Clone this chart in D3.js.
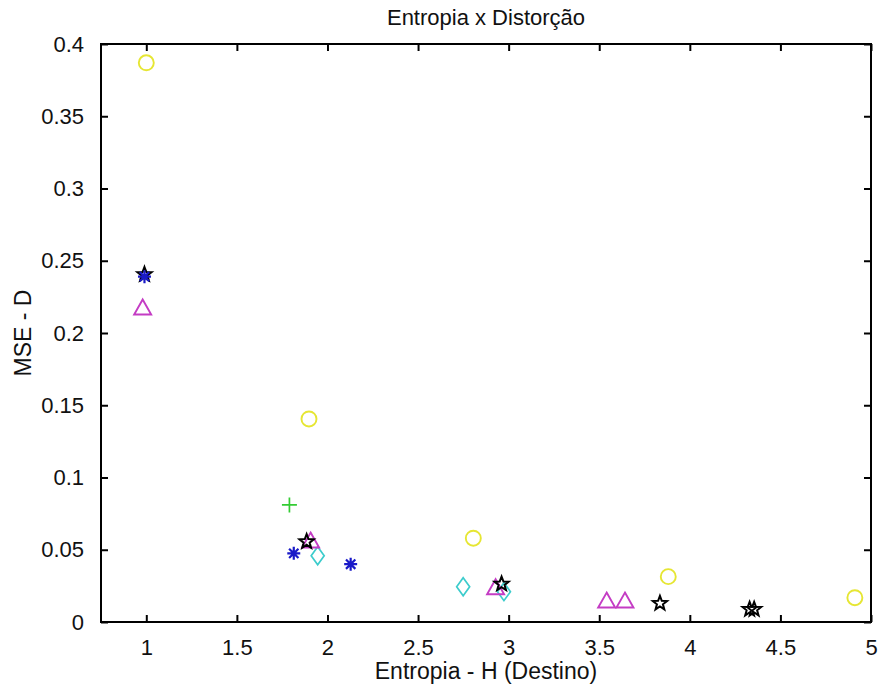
<!DOCTYPE html>
<html>
<head>
<meta charset="utf-8">
<script src="https://cdn.jsdelivr.net/npm/d3@7"></script>
<style>
  html, body { margin: 0; padding: 0; background: #fff; }
  svg { display: block; }
  text { font-family: "Liberation Sans", Arial, sans-serif; fill: #111; }
</style>
</head>
<body>
<script>
// Entropy (x) versus distortion (y) for several quantiser families.
const xTicks = [1, 1.5, 2, 2.5, 3, 3.5, 4, 4.5, 5];
const xTickLabels = ["1", "1.5", "2", "2.5", "3", "3.5", "4", "4.5", "5"];
const yTicks = [0, 0.05, 0.1, 0.15, 0.2, 0.25, 0.3, 0.35, 0.4];
const yTickLabels = ["0", "0.05", "0.1", "0.15", "0.2", "0.25", "0.3", "0.35", "0.4"];

// yellow circles
const circleH = [1.0, 1.898, 2.805, 3.881, 4.911];
const circleD = [0.387, 0.1405, 0.058, 0.0314, 0.0168];
// black pentagrams
const starH = [0.99, 1.885, 2.961, 3.835, 4.33, 4.355];
const starD = [0.2405, 0.0556, 0.0263, 0.0129, 0.0088, 0.0088];
// magenta triangles
const triH = [0.98, 1.907, 2.928, 3.541, 3.642];
const triD = [0.218, 0.0567, 0.0244, 0.0152, 0.0152];
// cyan diamonds
const diaH = [1.946, 2.749, 2.974];
const diaD = [0.0459, 0.0244, 0.021];
// blue asterisks
const astH = [0.99, 1.814, 2.128];
const astD = [0.239, 0.0475, 0.040];
// green plus
const plusH = [1.79];
const plusD = [0.081];

const W = 879, H = 686;
const m = { left: 101, right: 8, top: 44, bottom: 64 };

const svg = d3.select("body").append("svg").attr("width", W).attr("height", H);

const x = d3.scaleLinear().domain([0.75, 5]).range([m.left, W - m.right]);
const y = d3.scaleLinear().domain([0, 0.4]).range([H - m.bottom, m.top]);

const fs = 22, tickLen = 7;

// axes (bottom/left carry labels, top/right only ticks)
const gx = svg.append("g").attr("transform", `translate(0,${y(0)})`)
  .call(d3.axisBottom(x).tickValues(xTicks).tickFormat((d, i) => xTickLabels[i])
    .tickSizeInner(-tickLen).tickSizeOuter(0).tickPadding(17));
const gxTop = svg.append("g").attr("transform", `translate(0,${y(0.4)})`)
  .call(d3.axisTop(x).tickValues(xTicks).tickFormat("").tickSizeInner(-tickLen).tickSizeOuter(0));
const gy = svg.append("g").attr("transform", `translate(${x(0.75)},0)`)
  .call(d3.axisLeft(y).tickValues(yTicks).tickFormat((d, i) => yTickLabels[i])
    .tickSizeInner(-tickLen).tickSizeOuter(0).tickPadding(17));
const gyRight = svg.append("g").attr("transform", `translate(${x(5)},0)`)
  .call(d3.axisRight(y).tickValues(yTicks).tickFormat("").tickSizeInner(-tickLen).tickSizeOuter(0));

[gx, gxTop, gy, gyRight].forEach(g => {
  g.select(".domain").remove();
  g.selectAll(".tick line").attr("stroke", "#000").attr("stroke-width", 2);
  g.selectAll(".tick text").attr("font-size", fs).attr("fill", "#111");
});

svg.append("rect")
  .attr("x", x(0.75)).attr("y", y(0.4))
  .attr("width", x(5) - x(0.75)).attr("height", y(0) - y(0.4))
  .attr("fill", "none").attr("stroke", "#000").attr("stroke-width", 2);

// marker shapes (centred at 0,0)
function circlePath(r) { return d3.arc()({ innerRadius: 0, outerRadius: r, startAngle: 0, endAngle: 2 * Math.PI }); }
function trianglePath(s) {
  const h = s * 0.88;
  return `M0,${-h / 2}L${s / 2},${h / 2}L${-s / 2},${h / 2}Z`;
}
function diamondPath(w, h) { return `M0,${-h / 2}L${w / 2},0L0,${h / 2}L${-w / 2},0Z`; }
function plusPath(s) { return `M${-s / 2},0H${s / 2}M0,${-s / 2}V${s / 2}`; }
function asteriskPath(s) {
  const a = s / 2, b = a * 0.72;
  return `M${-a},0H${a}M0,${-a}V${a}M${-b},${-b}L${b},${b}M${-b},${b}L${b},${-b}`;
}
function starPath(R) {
  const r = R * 0.42, pts = [];
  for (let i = 0; i < 10; i++) {
    const ang = -Math.PI / 2 + i * Math.PI / 5;
    const rad = i % 2 ? r : R;
    pts.push([rad * Math.cos(ang), rad * Math.sin(ang)]);
  }
  return "M" + pts.map(p => p.join(",")).join("L") + "Z";
}

function plotSeries(hs, ds, path, color, width) {
  svg.append("g").selectAll("path")
    .data(hs.map((h, i) => [h, ds[i]]))
    .join("path")
    .attr("transform", d => `translate(${x(d[0])},${y(d[1])})`)
    .attr("d", path)
    .attr("fill", "none")
    .attr("stroke", color)
    .attr("stroke-width", width)
    .attr("stroke-linejoin", "miter");
}

plotSeries(circleH, circleD, circlePath(7.5), "#e6e633", 1.9);
plotSeries(diaH, diaD, diamondPath(13, 18), "#3ccccc", 1.7);
plotSeries(triH, triD, trianglePath(17), "#c43cc4", 1.9);
plotSeries(starH, starD, starPath(7.5), "#000", 2);
plotSeries(astH, astD, asteriskPath(13), "#1a1ac8", 2.2);
plotSeries(plusH, plusD, plusPath(15), "#33cc33", 1.7);

// labels
svg.append("text")
  .attr("x", (x(0.75) + x(5)) / 2).attr("y", 25)
  .attr("text-anchor", "middle").attr("font-size", 22)
  .text("Entropia x Distorção");
svg.append("text")
  .attr("x", (x(0.75) + x(5)) / 2).attr("y", 679)
  .attr("text-anchor", "middle").attr("font-size", 23)
  .text("Entropia - H (Destino)");
svg.append("text")
  .attr("transform", `translate(31,${(y(0) + y(0.4)) / 2}) rotate(-90)`)
  .attr("text-anchor", "middle").attr("font-size", 23)
  .text("MSE - D");
</script>
</body>
</html>
